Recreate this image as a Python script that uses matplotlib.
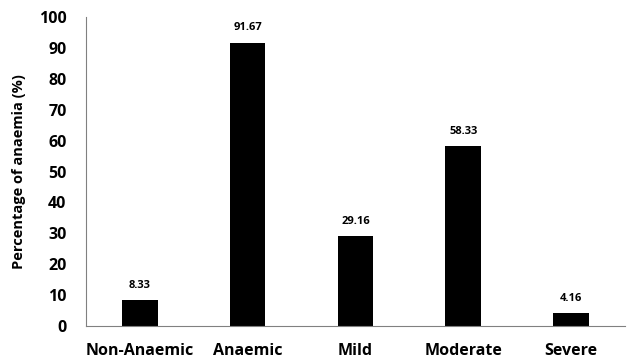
import matplotlib.pyplot as plt

categories = ["Non-Anaemic", "Anaemic", "Mild", "Moderate", "Severe"]
percentages = [8.33, 91.67, 29.16, 58.33, 4.16]
y_ticks = [0, 10, 20, 30, 40, 50, 60, 70, 80, 90, 100]

plt.rcParams["font.family"] = ["Open Sans", "DejaVu Sans"]

fig = plt.figure(figsize=(6.39, 3.62), dpi=100)
ax = fig.add_axes([0.1346, 0.0994, 0.8434, 0.8536])

x = range(len(categories))
bars = ax.bar(x, percentages, width=0.33, color="black")
for xi, v in zip(x, percentages):
    ax.text(xi, v + 3, f"{v:.2f}", ha="center", va="bottom",
            fontsize=8, fontweight="bold")

ax.set_xlim(-0.5, len(categories) - 0.5)
ax.set_ylim(0, 100)
ax.set_yticks(y_ticks)
ax.set_xticks(list(x))
ax.set_xticklabels(categories, fontsize=11.5, fontweight="bold")
ax.tick_params(axis="y", labelsize=11.5, length=0, pad=14)
ax.tick_params(axis="x", length=0, pad=12)
for lbl in ax.get_yticklabels():
    lbl.set_fontweight("bold")
ax.set_ylabel("Percentage of anaemia (%)", fontsize=10.5, fontweight="bold", labelpad=9)

ax.spines["top"].set_visible(False)
ax.spines["right"].set_visible(False)
ax.spines["left"].set_color("#808080")
ax.spines["bottom"].set_color("#808080")

fig.savefig("out.png", dpi=100)
